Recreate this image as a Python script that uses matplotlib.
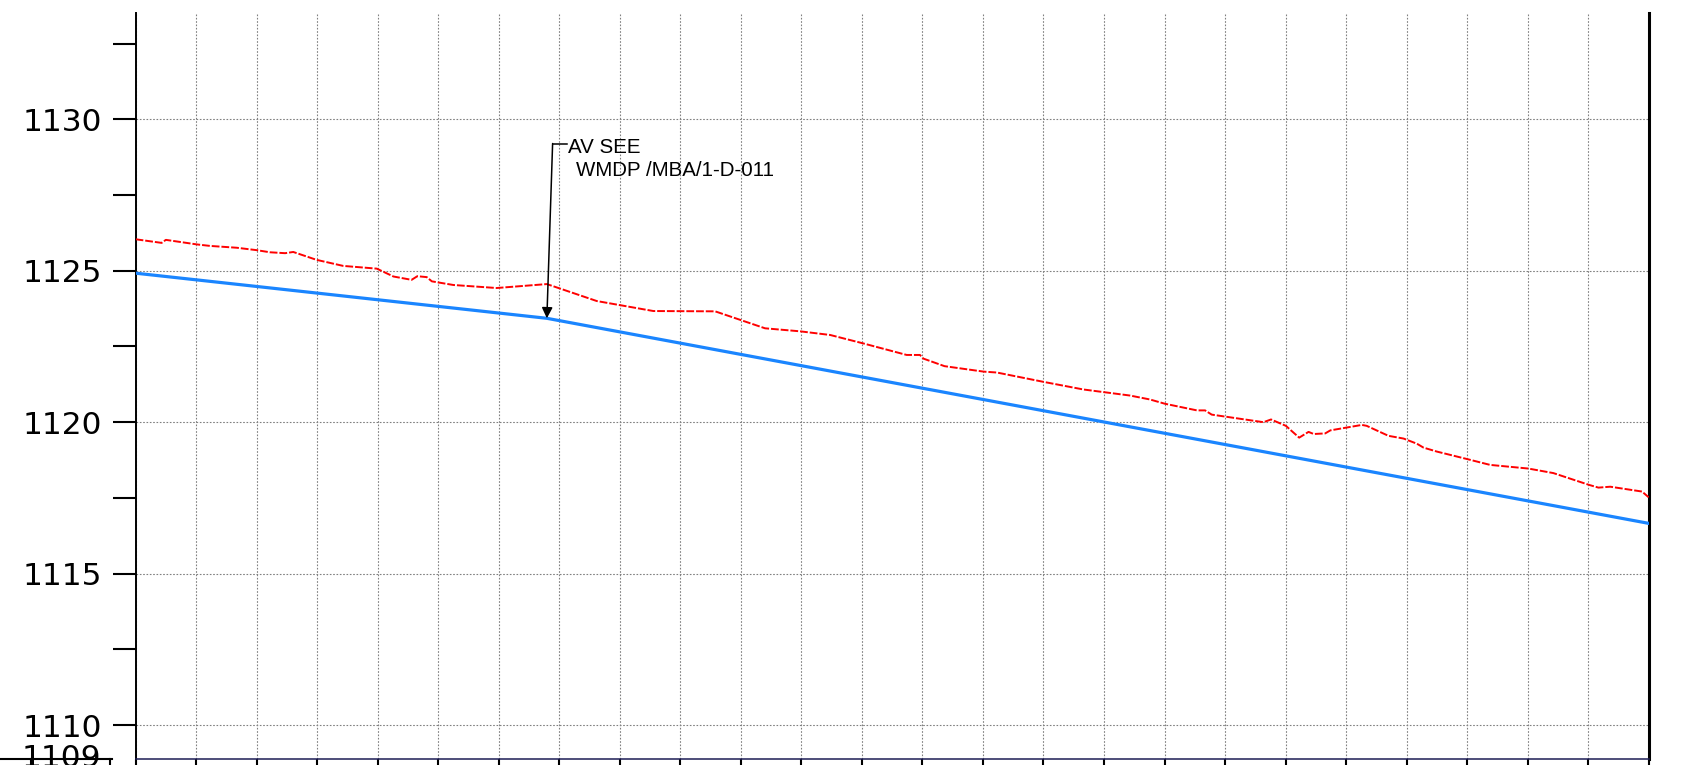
import matplotlib
matplotlib.use("Agg")
import matplotlib.pyplot as plt
from matplotlib.lines import Line2D

# ground profile (red, dashed) - chainage in m, elevation in m
ground_ch = [0, 8.6, 10, 20.2, 24.6, 33.4, 40, 44.4, 49.4, 52.1, 59.8, 68.6, 79.7,
             85.2, 91.2, 93.1, 96.2, 97.9, 105, 119.3, 135.9, 152.4, 171.1, 191.5,
             208.0, 219.6, 229.5, 240.5, 254.8, 259.2, 260.3, 267.3, 280.2, 284.6,
             300.1, 313.2, 328.6, 335.2, 340.1, 350.7, 353.4, 355.6, 372.7, 375.2,
             380.1, 384.5, 387.6, 389.3, 393.1, 394.8, 405.2, 406.8, 414, 419,
             423.4, 425.6, 430, 440.1, 447.6, 460.2, 468.5, 480.3, 483.4, 487.3,
             497.8, 500]
ground_el = [1126.04, 1125.92, 1126.02, 1125.87, 1125.82, 1125.76, 1125.68, 1125.61,
             1125.58, 1125.62, 1125.36, 1125.16, 1125.07, 1124.81, 1124.70, 1124.82,
             1124.79, 1124.65, 1124.53, 1124.43, 1124.56, 1124.00, 1123.67, 1123.66,
             1123.10, 1123.00, 1122.88, 1122.60, 1122.22, 1122.22, 1122.10, 1121.85,
             1121.67, 1121.64, 1121.33, 1121.08, 1120.88, 1120.75, 1120.61, 1120.39,
             1120.39, 1120.25, 1120.00, 1120.09, 1119.88, 1119.49, 1119.68, 1119.61,
             1119.63, 1119.73, 1119.91, 1119.88, 1119.55, 1119.46, 1119.29, 1119.16,
             1119.03, 1118.78, 1118.59, 1118.47, 1118.32, 1117.93, 1117.84, 1117.87,
             1117.71, 1117.52]

# pipe invert (blue)
pipe_ch = [0, 135.9, 500]
pipe_el = [1124.92, 1123.43, 1116.66]

# air valve annotation
av_ch, av_el = 135.9, 1123.43
av_text = ["AV SEE", "WMDP /MBA/1-D-011"]

y_major = [1109, 1110, 1115, 1120, 1125, 1130]
y_minor = [1112.5, 1117.5, 1122.5, 1127.5, 1132.5]
x_grid = list(range(0, 501, 20))

W, H = 1684, 765
fig = plt.figure(figsize=(W / 100, H / 100), dpi=100)
ax = fig.add_axes([135.6 / W, (H - 758.7) / H, (1648.7 - 135.6) / W, 745.4 / H])

ax.plot(pipe_ch, pipe_el, color="#1a85ff", lw=2.3, zorder=3)
ax.plot(ground_ch, ground_el, color="#ff0000", lw=1.4, ls=(0, (4, 1)), zorder=3)

ax.set_xlim(0, 500)
ax.set_ylim(1108.89, 1133.5)

ax.set_xticks(x_grid)
ax.set_xticklabels([])
ax.tick_params(axis="x", direction="out", length=12, width=1.5, color="black")

ax.set_yticks(y_major)
ax.set_yticklabels([str(v) for v in y_major])
ax.set_yticks(y_minor, minor=True)
ax.tick_params(axis="y", which="both", direction="out", length=16.5, width=1.5,
               color="black", labelsize=22.5, pad=8)
ax.yaxis.get_major_ticks()[0].tick1line.set_visible(False)

ax.grid(True, which="major", color="#808080", lw=0.8, ls=(0, (1.5, 1.5)))
ax.yaxis.get_major_ticks()[0].gridline.set_visible(False)

ax.spines["top"].set_visible(False)
ax.spines["left"].set_linewidth(1.4)
ax.spines["right"].set_linewidth(2.2)
ax.spines["bottom"].set_color("#1c1c55")
ax.spines["bottom"].set_linewidth(1.1)

# leader with arrow for the air valve note
lx, ly = 137.8, 1129.2
ax.annotate("", xy=(av_ch, av_el), xytext=(lx, ly),
            arrowprops=dict(arrowstyle="-|>", color="black", lw=1.1,
                            mutation_scale=16, shrinkA=0, shrinkB=0), zorder=4)
ax.plot([lx, 142.7], [ly, ly], color="black", lw=1.1, zorder=4)
ax.text(143.0, 1128.90, av_text[0], fontsize=14.8, family="Liberation Sans",
        va="baseline", ha="left")
ax.text(145.5, 1128.13, av_text[1], fontsize=14.8, family="Liberation Sans",
        va="baseline", ha="left")

# piece of the table frame below the profile
yb = (H - 758.7) / H
fig.add_artist(Line2D([0, 112 / W], [yb, yb], color="black", lw=1.5))
for px in (31, 110):
    fig.add_artist(Line2D([px / W, px / W], [yb, 0], color="black", lw=1.5))

fig.savefig("out.png", dpi=100)
